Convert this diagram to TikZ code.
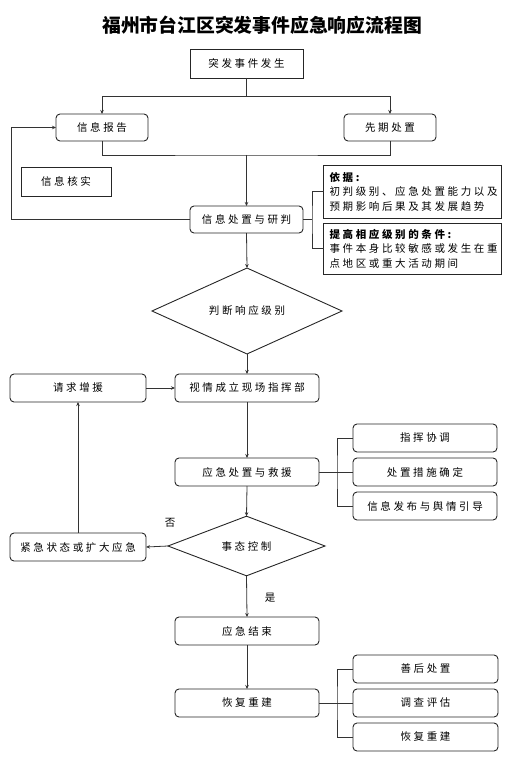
\documentclass[tikz,border=0pt]{standalone}
\usepackage{fontspec}
\setmainfont{Noto Sans CJK SC}[LetterSpace=25]
\newfontfamily\titlefont{Noto Sans CJK SC}
\usetikzlibrary{shapes.geometric,arrows.meta}
\begin{document}
\begin{tikzpicture}[x=1pt,y=-1pt,
  every node/.style={font=\fontsize{10.5}{14.5}\selectfont, inner sep=0pt, outer sep=0pt},
  box/.style={draw=black!85, line width=0.9pt, align=center},
  rbox/.style={box, rounded corners=4pt},
  note/.style={draw=black!85, line width=0.9pt, align=left, text width=166pt, minimum width=178pt},
  dia/.style={draw=black!85, line width=0.9pt, diamond, shape aspect=1},
  ln/.style={draw=black!80, line width=0.8pt},
  arr/.style={ln, -{Stealth[length=4pt,width=3.5pt]}}]
\useasboundingbox (0,0) rectangle (511,767);
\node[font=\titlefont\bfseries\fontsize{18.8}{20}\selectfont] (title) at (262,25) {福州市台江区突发事件应急响应流程图};
\node[box, minimum width=113pt, minimum height=29pt] (n1) at (246.5,63.5) {突发事件发生};
\node[rbox, minimum width=92pt, minimum height=27pt] (rep) at (102,127.5) {信息报告};
\node[rbox, minimum width=92pt, minimum height=27pt] (pre) at (390,127.5) {先期处置};
\node[box, minimum width=90pt, minimum height=29pt] (ver) at (66,181.5) {信息核实};
\node[rbox, minimum width=113pt, minimum height=27pt] (proc) at (246.5,219.5) {信息处置与研判};
\node[note, minimum height=53pt] (basis) at (412.5,191.5) {\textbf{依据:}\\初判级别、应急处置能力以及\\预期影响后果及其发展趋势};
\node[note, minimum height=51pt] (raise) at (412.5,248.5) {\textbf{提高相应级别的条件:}\\事件本身比较敏感或发生在重\\点地区或重大活动期间};
\node[dia, minimum width=190pt, minimum height=62pt] (judge) at (247,311) {判断响应级别};
\node[rbox, minimum width=144pt, minimum height=28pt] (cmd) at (247,388) {视情成立现场指挥部};
\node[rbox, minimum width=136pt, minimum height=28pt] (req) at (78,388) {请求增援};
\node[rbox, minimum width=144pt, minimum height=28pt] (rescue) at (247,472) {应急处置与救援};
\node[rbox, minimum width=144pt, minimum height=28pt] (s1) at (425,438) {指挥协调};
\node[rbox, minimum width=144pt, minimum height=28pt] (s2) at (425,472) {处置措施确定};
\node[rbox, minimum width=144pt, minimum height=28pt] (s3) at (425,506) {信息发布与舆情引导};
\node[dia, minimum width=157pt, minimum height=54pt] (ctrl) at (246.5,546) {事态控制};
\node[rbox, minimum width=136pt, minimum height=28pt] (emerg) at (78,547) {紧急状态或扩大应急};
\node[rbox, minimum width=144pt, minimum height=28pt] (fin) at (247,631) {应急结束};
\node[rbox, minimum width=144pt, minimum height=28pt] (reb) at (247,703) {恢复重建};
\node[rbox, minimum width=145pt, minimum height=28pt] (r1) at (425.5,669) {善后处置};
\node[rbox, minimum width=145pt, minimum height=28pt] (r2) at (425.5,703) {调查评估};
\node[rbox, minimum width=145pt, minimum height=28pt] (r3) at (425.5,737) {恢复重建};
\node (no) at (170,523) {否};
\node (yes) at (270,598) {是};
% connectors
\coordinate (split) at (246.5,96);
\coordinate (merge) at (246.5,155);
\draw[ln] (n1.south) -- (split);
\draw[arr] (split) -| (rep.north);
\draw[arr] (split) -| (pre.north);
\draw[ln] (rep.south) |- (merge) -| (pre.south);
\draw[arr] (merge) -- (proc.north);
\coordinate (fb) at (11,127.5);
\draw[arr] (proc.west) -| (fb) -- (rep.west);
\draw[ln] (proc.east) -- ++(9,0) coordinate (b1);
\draw[ln] (basis.west) -| (b1) |- (raise.west);
\draw[arr] (proc.south) -- (judge.north);
\draw[arr] (judge.south) -- (cmd.north);
\draw[arr] (req.east) -- (cmd.west);
\draw[arr] (cmd.south) -- (rescue.north);
\draw[ln] (rescue.east) -- ++(18,0) coordinate (b2);
\draw[ln] (s1.west) -| (b2) |- (s3.west);
\draw[ln] (b2) -- (s2.west);
\draw[arr] (rescue.south) -- (ctrl.north);
\draw[arr] (ctrl.west) -- (emerg.east);
\draw[arr] (emerg.north) -- (req.south);
\draw[arr] (ctrl.south) -- (fin.north);
\draw[arr] (fin.south) -- (reb.north);
\draw[ln] (reb.east) -- ++(18,0) coordinate (b3);
\draw[ln] (r1.west) -| (b3) |- (r3.west);
\draw[ln] (b3) -- (r2.west);
\end{tikzpicture}
\end{document}
